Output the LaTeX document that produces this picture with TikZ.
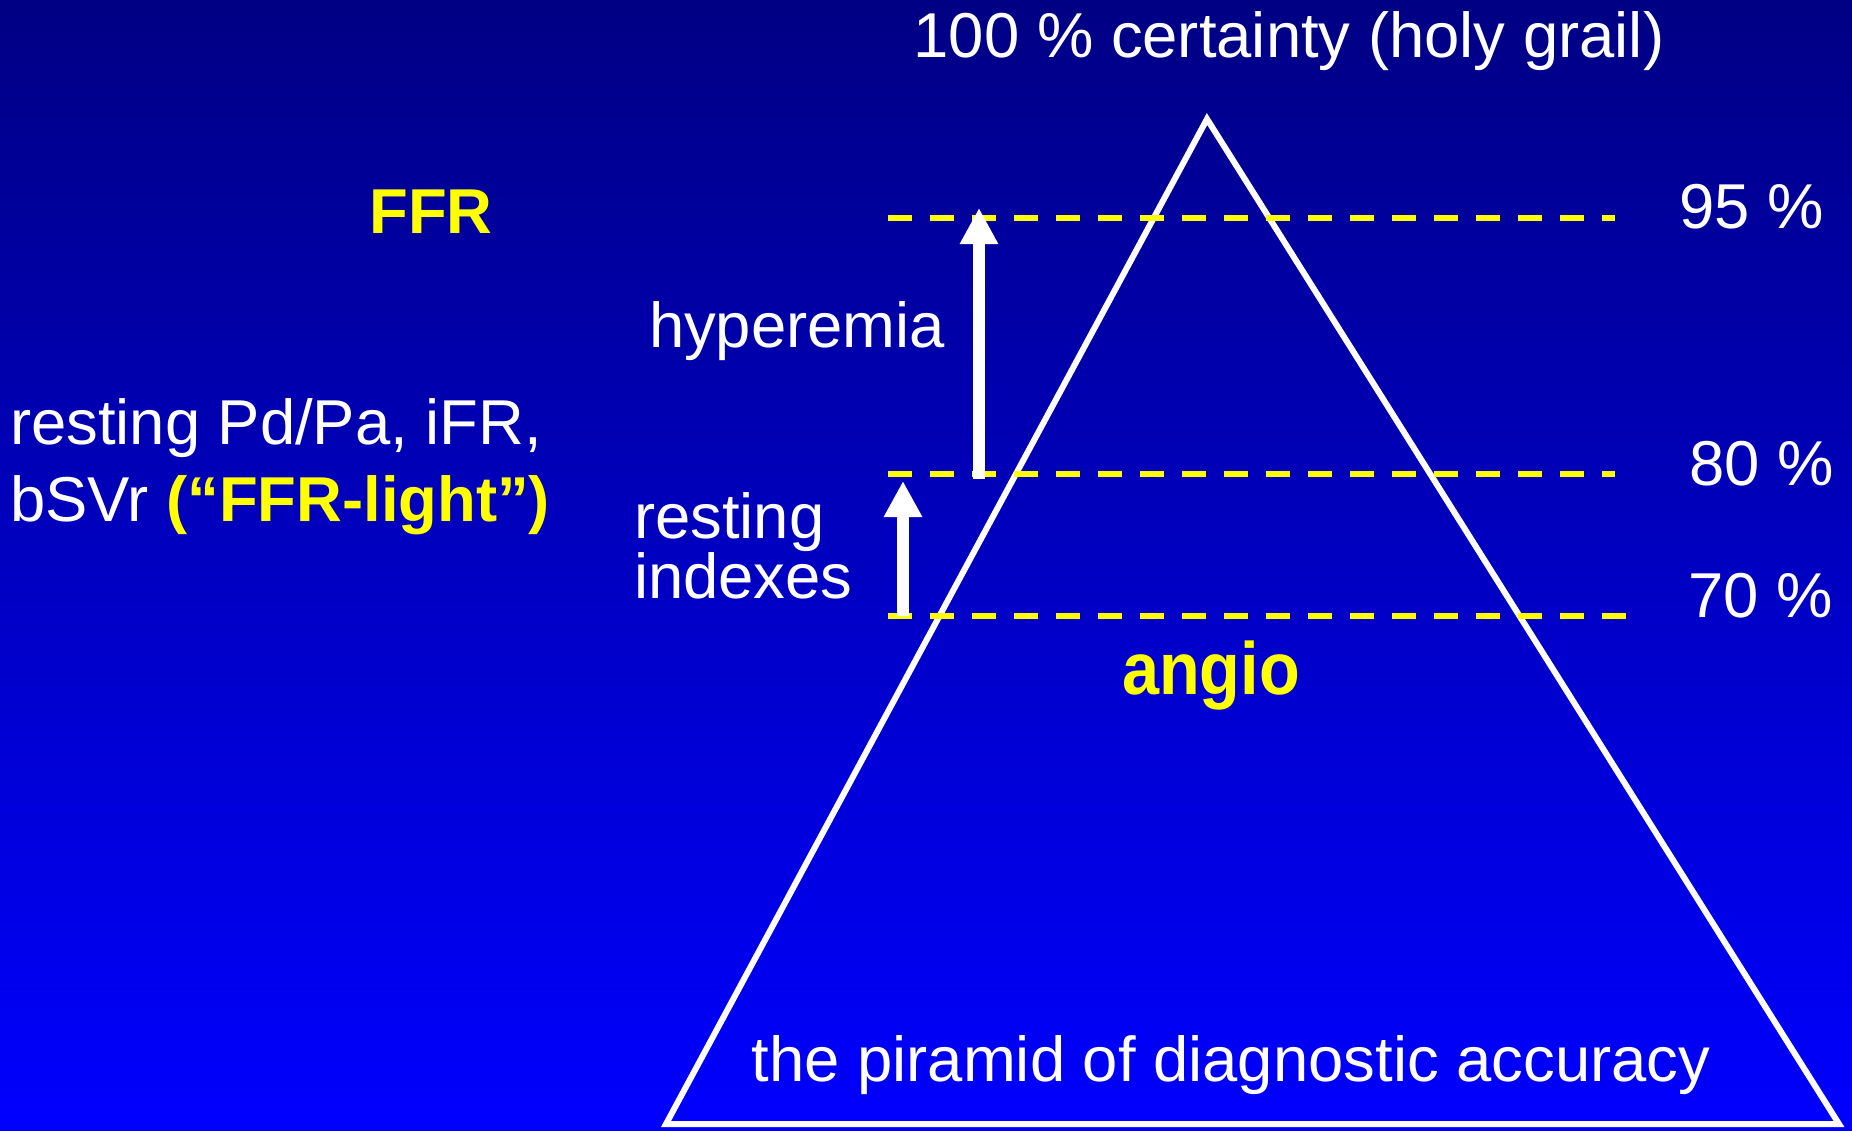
\documentclass[tikz,border=0pt]{standalone}
\usepackage{fontspec}
\setmainfont{Liberation Sans}
\usetikzlibrary{arrows.meta}
\definecolor{bgtop}{RGB}{0,0,132}
\definecolor{bgbot}{RGB}{0,0,255}
\definecolor{ylw}{RGB}{255,255,0}
\tikzset{
  txt/.style={inner sep=0pt, outer sep=0pt, text=white, font=\fontsize{63.4}{76}\selectfont},
  ytxt/.style={txt, text=ylw, font=\fontsize{63.4}{76}\selectfont\bfseries},
  level/.style={draw=ylw, line width=6pt, dash pattern=on 24pt off 18pt},
  pyr/.style={draw=white, line width=6pt, line join=miter},
  uparrow/.style={draw=white, fill=white, line width=12pt, -{Triangle[length=36pt 0 0,width=36pt 0 0]}}
}
\begin{document}
\begin{tikzpicture}[x=1pt,y=-1pt]
\useasboundingbox (0,0) rectangle (1852,1130);
\shade[top color=bgtop, bottom color=bgbot] (0,0) rectangle (1852,1130);
% pyramid
\coordinate (apex) at (1207,119);
\coordinate (bl) at (666,1124);
\coordinate (br) at (1839,1124);
\draw[pyr] (apex) -- (bl) -- (br) -- cycle;
% levels
\coordinate (l95a) at (888,218); \coordinate (l95b) at (1615,218);
\coordinate (l80a) at (888,474); \coordinate (l80b) at (1615,474);
\coordinate (l70a) at (888,616); \coordinate (l70b) at (1628,616);
\draw[level] (l95a) -- (l95b);
\draw[level] (l80a) -- (l80b);
\draw[level] (l70a) -- (l70b);
% arrows
\coordinate (h0) at (979,479); \coordinate (h1) at (979,208);
\coordinate (r0) at (903,616); \coordinate (r1) at (903,481);
\draw[uparrow] (h0) -- (h1);
\draw[uparrow] (r0) -- (r1);
% texts
\node[txt, anchor=base] (top) at (1289,57) {100 \% certainty (holy grail)};
\node[ytxt, anchor=base] (ffr) at (431,233) {FFR};
\node[txt, anchor=base west] (p95) at (1679,228) {95 \%};
\node[txt, anchor=base west] (p80) at (1689,485) {80 \%};
\node[txt, anchor=base west] (p70) at (1688,617) {70 \%};
\node[txt, anchor=base west] (hyp) at (649,347) {hyperemia};
\node[txt, anchor=base west, align=left, font=\fontsize{63.4}{60}\selectfont] (rest) at (634,598) {resting\\indexes};
\node[txt, anchor=base west, align=left, font=\fontsize{63.4}{77}\selectfont] (left) at (10,521) {resting Pd/Pa, iFR,\\bSVr {\color{ylw}\bfseries (“FFR-light”)}};
\node[ytxt, anchor=base, font=\fontsize{74}{80}\selectfont\bfseries] (angio) at (1211,694) {\scalebox{0.9}[1]{angio}};
\node[txt, anchor=base] (pir) at (1231,1081) {the piramid of diagnostic accuracy};
\end{tikzpicture}
\end{document}
